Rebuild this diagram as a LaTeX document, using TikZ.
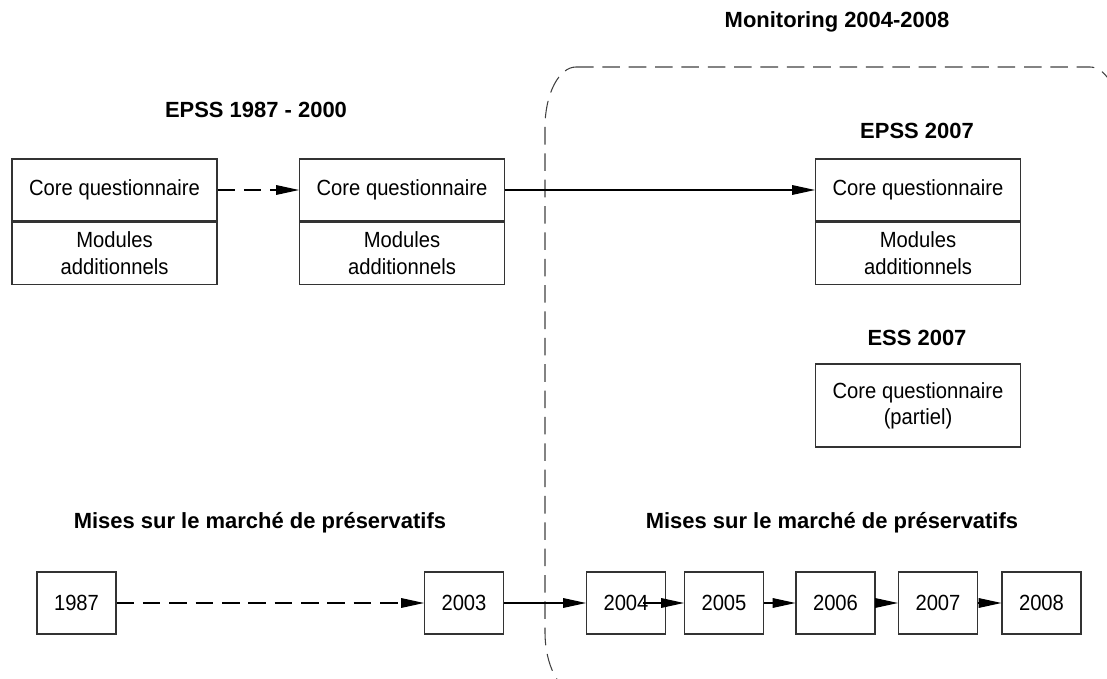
\documentclass[tikz,border=0pt]{standalone}
\usepackage{fontspec}
\setmainfont{Liberation Sans}
\newfontfamily\narrowfont[FakeStretch=0.92]{Liberation Sans}
\usetikzlibrary{arrows.meta,positioning}

\begin{document}
\begin{tikzpicture}[x=0.02cm,y=-0.02cm,
  box/.style={draw=black!80,line width=0.6pt,font=\narrowfont\fontsize{12.5}{15}\selectfont,
    align=center,inner sep=0pt,minimum width=4.1cm,minimum height=1.24cm},
  yearbox/.style={box,minimum width=1.58cm},
  heading/.style={font=\bfseries\fontsize{12.5}{15}\selectfont,anchor=base},
  link/.style={line width=0.6pt,-{Triangle[length=13pt,width=5.5pt]}},
  gap/.style={link,dash pattern=on 10pt off 5pt},
  region/.style={draw=black!75,line width=0.6pt,dash pattern=on 10pt off 5pt}]

  \useasboundingbox (0,0) rectangle (1107,679);

  % monitoring period, runs off the page
  \begin{scope}
    \clip (0,0) rectangle (1107,679);
    \draw[region] (576,67) -- (1090,67) .. controls (1107,67) and (1121,94) .. (1121,127)
      -- (1121,632) .. controls (1121,665) and (1107,692) .. (1090,692)
      -- (576,692) .. controls (559,692) and (545,665) .. (545,632)
      -- (545,127) .. controls (545,94) and (559,67) .. (576,67) -- cycle;
  \end{scope}

  \node[heading] (monitor) at (837,28) {Monitoring 2004-2008};
  \node[heading] (epssold) at (256,118) {EPSS 1987 - 2000};
  \node[heading] (epssnew) at (917,139) {EPSS 2007};
  \node[heading] (ess) at (917,345) {ESS 2007};
  \node[heading] (mktold) at (260,528) {Mises sur le marché de préservatifs};
  \node[heading] (mktnew) at (832,528) {Mises sur le marché de préservatifs};

  \node[box] (coreA) at (114.5,190) {Core questionnaire};
  \node[box,below=0pt of coreA] (modA) {Modules\\additionnels};
  \node[box] (coreB) at (402,190) {Core questionnaire};
  \node[box,below=0pt of coreB] (modB) {Modules\\additionnels};
  \node[box] (coreC) at (918,190) {Core questionnaire};
  \node[box,below=0pt of coreC] (modC) {Modules\\additionnels};
  \node[box,minimum height=1.66cm] (coreD) at (918,405.5) {Core questionnaire\\(partiel)};

  \node[yearbox] (y1987) at (76.5,603) {1987};
  \node[yearbox] (y2003) at (464,603) {2003};
  \foreach \yr/\xpos in {2004/626,2005/724,2006/835.5,2007/938,2008/1041.5}
    \node[yearbox] (y\yr) at (\xpos,603) {\yr};
  \coordinate (in2004) at ([xshift=-0.46cm]y2004.east);

  \path
  (coreA) edge[gap] (coreB)
  (coreB) edge[link] (coreC)
  (y1987) edge[gap] (y2003)
  (y2003) edge[link] (y2004)
  (in2004) edge[link] (y2005)
  (y2005) edge[link] (y2006)
  (y2006) edge[link] (y2007)
  (y2007) edge[link] (y2008);
\end{tikzpicture}
\end{document}
